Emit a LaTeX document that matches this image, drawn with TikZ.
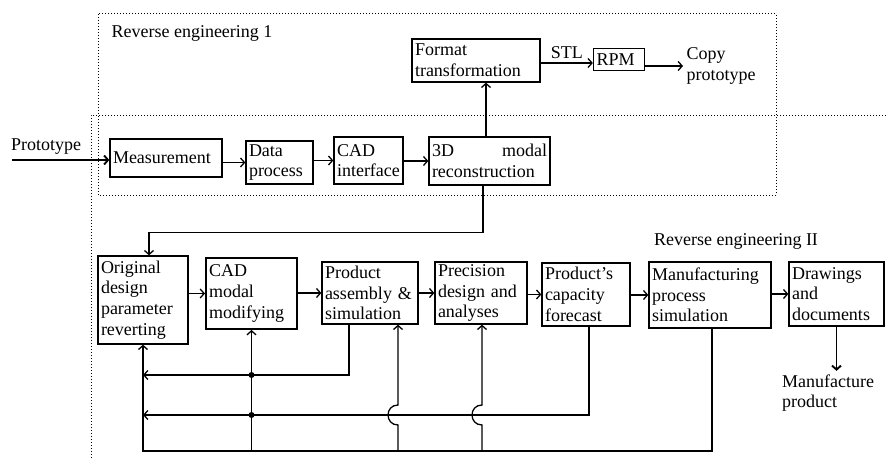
\documentclass[tikz,border=0pt]{standalone}
\usepackage{fontspec}
\setmainfont{Liberation Serif}
\usetikzlibrary{positioning,arrows.meta,calc}
\tikzset{
  blk/.style 2 args={draw, line width=1.3pt, align=left, inner xsep=3pt,
              inner ysep=2pt, text width=#1, minimum height=#2},
  regionframe/.style={line width=1pt, dash pattern=on 1pt off 2pt},
  flow/.style={->, line width=1.3pt},
  bigflow/.style={->, line width=1.9pt},
  jdot/.style={circle, fill, inner sep=0pt, minimum size=6pt},
  >={Straight Barb[length=4pt,width=9pt]},
}
\begin{document}
\begin{tikzpicture}[x=1pt, y=-1pt, font=\fontsize{18}{20.7}\selectfont]
\useasboundingbox (0,0) rectangle (886,460);
% region frames
\draw[regionframe] (98,14) rectangle (776,195);
\draw[regionframe] (886,115) -- (91,115) -- (91,460);
\node (re1) at (192,33) {Reverse engineering 1};
\node (re2) at (736,241) {Reverse engineering II};

% reverse engineering 1
\node[blk={106pt}{38pt}] (meas) at (166,158) {Measurement};
\node[blk={61pt}{43pt}] (data) at (279.5,162.5) {Data\\process};
\node[blk={63pt}{47pt}] (cadi) at (368.5,160.5) {CAD\\interface};
\node[blk={115pt}{48pt}] (recon) at (489.5,161) {3D\hfill modal\\reconstruction};
\node[blk={122pt}{43pt}] (fmt) at (476,60.5) {Format\\transformation};
\node[blk={45pt}{22pt}] (rpm) at (619,59.5) {RPM};
\node[align=left, anchor=west] (copy) at (683,66) {Copy\\prototype};
\node (proto) at (46,147) {Prototype};
\coordinate (pin) at (12,160);

% reverse engineering II
\node[blk={84pt}{88pt}] (orig) at (143,300) {Original\\design\\parameter\\reverting};
\node[blk={85pt}{71pt}, line width=1.9pt] (cadm) at (251.5,293.5) {CAD\\modal\\modifying};
\node[blk={90pt}{62pt}] (asm) at (370,293) {Product\\assembly \&\\simulation};
\node[blk={86pt}{62pt}] (prec) at (481,293) {Precision\\design and\\analyses};
\node[blk={82pt}{63pt}] (cap) at (586,294.5) {Product's\\capacity\\forecast};
\node[blk={116pt}{66pt}] (mfg) at (710,295) {Manufacturing\\process\\simulation};
\node[blk={89pt}{64pt}] (drw) at (836.5,294) {Drawings\\and\\documents};
\node[align=left] (mprod) at (828,393) {Manufacture\\product};

% upper chain
\draw[bigflow] (pin) -- (pin -| meas.west);
\draw[flow] (meas.east |- data) -- (data.west);
\draw[flow] (data.east |- cadi) -- (cadi.west);
\draw[flow] (cadi.east |- recon) -- (recon.west);
\draw[flow] ([xshift=-3.5pt]recon.north) -- ([xshift=-3.5pt]recon.north |- fmt.south);
\draw[flow] ([yshift=-3.5pt]rpm.west -| fmt.east) -- node[above] (stl) {STL} ([yshift=-3.5pt]rpm.west);
\draw[flow] ([yshift=-6.5pt]rpm.east) -- (copy.west);
\draw[flow] ([xshift=-6.5pt]recon.south) -- ++(0,47) -| ([xshift=6pt]orig.north);

% lower chain
\draw[flow] (orig.east |- cadm) -- (cadm.west);
\draw[flow] (cadm.east |- asm) -- (asm.west);
\draw[flow] (asm.east |- prec) -- (prec.west);
\draw[flow] (prec.east |- cap) -- (cap.west);
\draw[flow] (cap.east |- mfg) -- (mfg.west);
\draw[flow] (mfg.east |- drw) -- (drw.west);
\draw[bigflow] (drw.south) -- (drw.south |- mprod.north);

% feedback loops
\coordinate (fbA) at (orig.south |- 0,375);
\coordinate (fbB) at (orig.south |- 0,415);
\coordinate (fbC) at (orig.south |- 0,451);
\coordinate (upA) at ([xshift=28pt]asm.south);
\coordinate (upB) at ([xshift=1pt]prec.south);
\draw[flow] ([xshift=-21pt]asm.south) |- (fbA);
\draw[flow] ([xshift=3pt]cap.south) |- (fbB);
\draw[flow] ([xshift=2pt]mfg.south) |- (fbC) -- (orig.south);
\draw[flow] (cadm.south |- fbC) -- (cadm.south);
\draw[flow] (upA |- fbC) -- ($(upA |- fbB)+(0,10)$)
  .. controls +(-13.3,0) and +(-13.3,0) .. ($(upA |- fbB)+(0,-10)$) -- (upA);
\draw[flow] (upB |- fbC) -- ($(upB |- fbB)+(0,10)$)
  .. controls +(-13.3,0) and +(-13.3,0) .. ($(upB |- fbB)+(0,-10)$) -- (upB);
\node[jdot] (dotA) at (cadm.south |- fbA) {};
\node[jdot] (dotB) at (cadm.south |- fbB) {};
\end{tikzpicture}
\end{document}
